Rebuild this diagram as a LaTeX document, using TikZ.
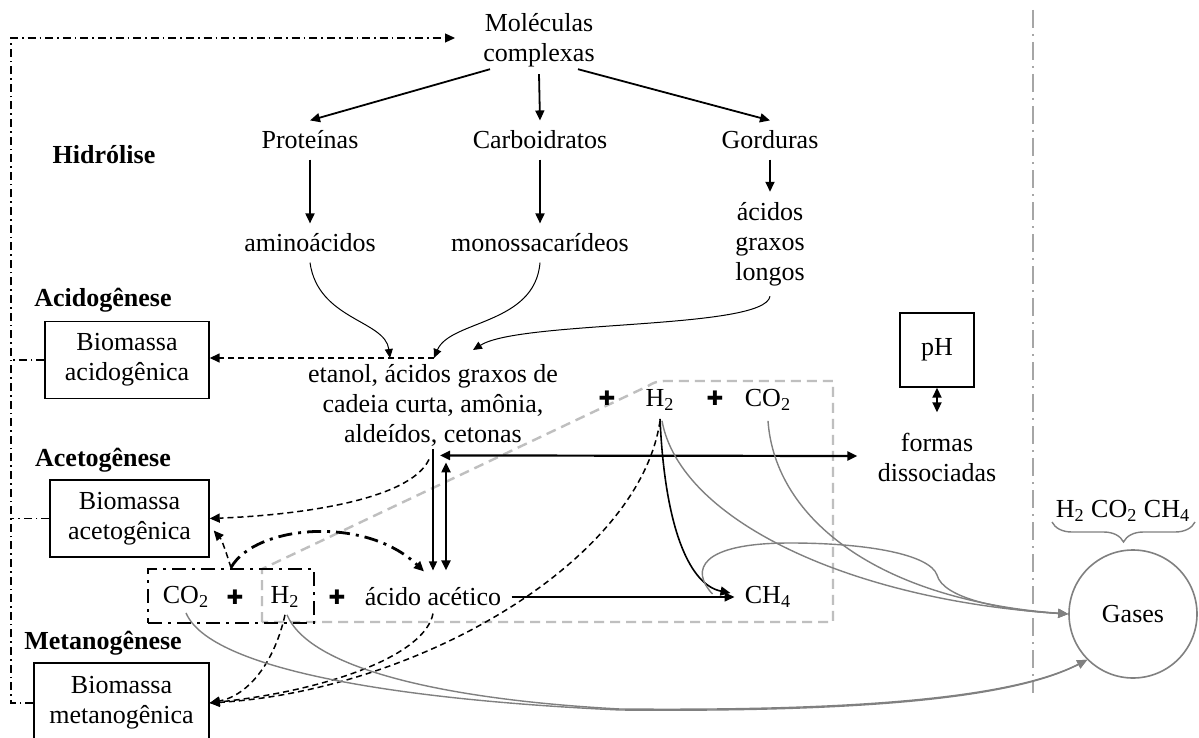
\documentclass[tikz,border=0pt]{standalone}
\usepackage{fontspec}
\setmainfont{Liberation Serif}
\newfontfamily\dejavu{DejaVu Sans}
\usetikzlibrary{arrows.meta,calc,decorations.pathreplacing}
\begin{document}
\begin{tikzpicture}[x=0.5pt,y=-0.5pt,
  every node/.style={font=\fontsize{13}{15}\selectfont, inner sep=5pt},
  txt/.style={align=center},
  lbl/.style={font=\fontsize{13}{15}\selectfont\bfseries},
  box/.style={draw, line width=0.7pt, align=center, inner sep=2pt},
  pl/.style={font=\dejavu\fontsize{10}{10}\selectfont, inner sep=0pt},
  tip/.style={-{Triangle[length=5pt,width=4.5pt]}},
  arr/.style={tip, line width=0.9pt},
  dbl/.style={{Triangle[length=5pt,width=4.5pt]}-{Triangle[length=5pt,width=4.5pt]}, line width=1.1pt},
  thinarr/.style={-{Triangle[length=4.5pt,width=4pt]}, line width=0.5pt},
  dasharr/.style={tip, line width=0.75pt, dash pattern=on 3pt off 2pt},
  fb/.style={line width=0.6pt, dash pattern=on 4pt off 2pt on 0.8pt off 2pt},
  ddthick/.style={line width=1.4pt, dash pattern=on 7pt off 3pt on 1.5pt off 3pt},
  gcurve/.style={draw=gray, line width=0.7pt, tip},
  gbox/.style={draw=black!25, line width=1.2pt, dash pattern=on 5pt off 3pt},
]
\useasboundingbox (0,0) rectangle (1199,738);
\fill[white] (0,0) rectangle (1199,738);
\clip (0,0) rectangle (1199,738);

% light gray dashed region
\draw[gbox] (262,622) -- (262,569) -- (648,386) .. controls (655,382) .. (664,381) -- (833,381) -- (833,622) -- cycle;
% gray separator
\draw[draw=black!35, line width=1pt, dash pattern=on 9pt off 3pt on 1pt off 3pt] (1033,10) -- (1033,693);

% nodes
\node[txt] (mol) at (539,40) {Moléculas\\complexas};
\node (prot) at (310,140) {Proteínas};
\node (carb) at (540,140) {Carboidratos};
\node (gord) at (770,140) {Gorduras};
\node (amino) at (310,243) {aminoácidos};
\node (mono) at (540,243) {monossacarídeos};
\node[txt] (agl) at (770,244) {ácidos\\graxos\\longos};
\node[lbl] (hid) at (104,155) {Hidrólise};
\node[lbl] (acl) at (103,300) {Acidogênese};
\node[lbl] (atl) at (103,460) {Acetogênese};
\node[lbl] (mtl) at (103,643) {Metanogênese};
\node[box, minimum width=82pt, minimum height=38.5pt] (bacid) at (127,360) {Biomassa\\acidogênica};
\node[box, minimum width=79.5pt, minimum height=38.5pt] (baceto) at (129.5,518.5) {Biomassa\\acetogênica};
\node[box, minimum width=87.5pt, minimum height=40pt] (bmet) at (121.5,703) {Biomassa\\metanogênica};
\node[txt] (etanol) at (433,405) {etanol, ácidos graxos de\\cadeia curta, amônia,\\aldeídos, cetonas};
\node[box, minimum size=37pt] (ph) at (937,350) {pH};
\node[txt] (formas) at (937,457) {formas\\dissociadas};

\node[draw, ddthick, minimum width=83pt, minimum height=27pt, inner sep=0pt] (co2box) at (231,596) {};
\node (co2a) at (186,597) {CO\textsubscript{2}};
\node[pl] (p1) at (235,597) {✚};
\node (h2a) at (285,597) {H\textsubscript{2}};
\node[pl] (p2) at (337,597) {✚};
\node (acet) at (433,597) {ácido acético};
\node (ch4) at (768,597) {CH\textsubscript{4}};
\node[pl] (p3) at (607,398) {✚};
\node (h2b) at (660,400) {H\textsubscript{2}};
\node[pl] (p4) at (715,398) {✚};
\node (co2b) at (768,400) {CO\textsubscript{2}};
\node[draw=gray, circle, line width=0.8pt, minimum size=64pt, inner sep=0pt] (gases) at (1133,614) {Gases};
\node (glbl) at (1123,511) {H\textsubscript{2} CO\textsubscript{2} CH\textsubscript{4}};

\coordinate (t1) at (390,358);
\coordinate (t2) at (434,358);
\coordinate (t3) at (473,350);
\coordinate (fbc) at (11,38);
\coordinate (br1) at (1195,522);
\coordinate (br2) at (1052,522);

% hydrolysis
\draw[arr] ($(mol.south)+(-49,-8)$) -- (prot.north);
\draw[arr] ($(mol.south)+(0,-3)$) -- (carb.north);
\draw[arr] ($(mol.south)+(39,-8)$) -- (gord.north);
\draw[arr] (prot) -- (amino);
\draw[arr] (carb) -- (mono);
\draw[arr] (gord) -- (agl);

% acidogenesis
\draw[thinarr] (amino.south) .. controls (318,320) and (385,320) .. (t1);
\draw[thinarr] (mono.south) .. controls (535,325) and (450,320) .. (t2);
\draw[thinarr] (agl.south) .. controls (765,330) and (520,320) .. (t3);
\draw[dasharr] (t2) -- (t2 -| bacid.east);

% acetogenesis
\draw[dasharr] ($(etanol.south)+(-4,3)$) .. controls (410,500) and (300,515) .. (baceto.east);
\draw[thinarr, line width=0.7pt] ($(etanol.south)+(0,-7)$) -- ($(acet.north)+(0,-7)$);
\draw[dbl] ($(etanol.south)+(13,6)$) -- ($(acet.north)+(13,-7)$);
\draw[dbl] ($(etanol.south)+(7,-1)$) -- ($(formas.west)+(-10,-1)$);
\draw[dbl, line width=0.9pt] (ph.south) -- ($(formas.north)+(0,-10)$);
\draw[ddthick, tip] (co2box.north) .. controls (255,525) and (365,515) .. ($(acet.north)+(-9,-6)$);
\draw[dasharr] (co2box.north) .. controls (226,552) and (222,540) .. ($(baceto.east)+(4,12)$);

% methanogenesis
\draw[arr, line width=0.8pt] (acet.east) -- (ch4.west);
\draw[arr, line width=0.8pt] ($(h2b.south)+(0,-2)$) .. controls (665,530) and (690,585) .. ($(ch4.west)+(-4,-4)$);
\draw[dasharr] ($(h2a.south)+(0,-3)$) .. controls (275,660) and (250,695) .. (bmet.east);
\draw[dasharr] ($(acet.south)+(0,-3)$) .. controls (425,655) and (330,690) .. (bmet.east);
\draw[dasharr] (h2b.south) .. controls (640,560) and (420,690) .. (bmet.east);

% gases
\draw[gcurve] ($(h2b.south)+(2,0)$) .. controls (680,520) and (850,600) .. (gases.west);
\draw[gcurve] (co2b.south) .. controls (775,520) and (880,600) .. (gases.west);
\draw[gcurve] ($(ch4.west)+(-22,-3)$) .. controls (690,570) and (700,543) .. (790,543) .. controls (870,543) and (930,555) .. (937,575) .. controls (943,598) and (1000,610) .. (gases.west);
\draw[gcurve] ($(co2a.south)+(0,-5)$) .. controls (210,670) and (400,700) .. (620,710) .. controls (850,712) and (1010,700) .. (gases.225);
\draw[gcurve] ($(h2a.south)+(2,-3)$) .. controls (310,670) and (450,700) .. (620,709) .. controls (850,711) and (1010,699) .. (gases.225);
\draw[draw=gray, line width=0.7pt, decorate, decoration={brace, amplitude=10pt}] (br1) -- (br2);

% feedback
\draw[fb, tip] (bmet.west) -| (fbc) -- ($(mol.west)+(-18,-2)$);
\draw[fb] (bacid.west) -- (bacid.west -| fbc);
\draw[fb] (baceto.west) -- (baceto.west -| fbc);
\end{tikzpicture}
\end{document}
